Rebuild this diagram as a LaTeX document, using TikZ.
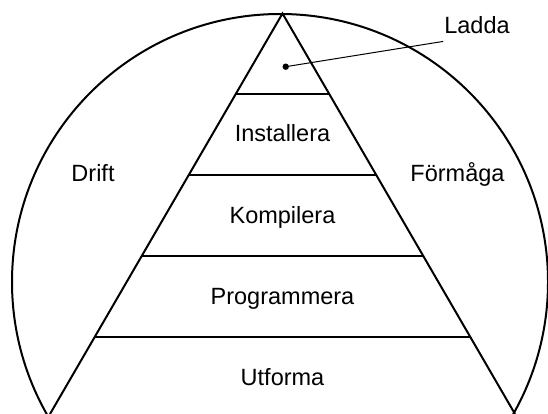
\documentclass[tikz,border=0pt]{standalone}
\usepackage{fontspec}
\setmainfont{Liberation Sans}
\begin{document}
\begin{tikzpicture}[x=1pt,y=-1pt,
  outline/.style={line width=2pt, line join=miter},
  level/.style={line width=2pt},
  lbl/.style={anchor=base, inner sep=0pt, font=\fontsize{23.5}{28}\selectfont},
  leader/.style={line width=1pt}]
  \useasboundingbox (0,0) rectangle (548,414);
  \clip (0,0) rectangle (548,414);
  % outer circle
  \coordinate (centre) at (280,282);
  \draw[outline] (centre) circle (268pt);
  % pyramid
  \coordinate (apex) at (282.5,13.5);
  \coordinate (bl) at (50,414);
  \coordinate (br) at (515,414);
  \draw[outline] (bl) -- (apex) -- (br);
  % level separators, half width grows linearly from the apex
  \foreach \h/\n in {94/a,175/b,256/c,337/d}{
    \pgfmathsetmacro{\w}{0.5805*(\h-13.5)}
    \coordinate (\n l) at (282.5-\w,\h);
    \coordinate (\n r) at (282.5+\w,\h);
    \draw[level] (\n l) -- (\n r);
  }
  % level labels
  \node[lbl] (installera) at (282.5,142) {Installera};
  \node[lbl] (kompilera) at (282.5,223) {Kompilera};
  \node[lbl] (programmera) at (282.5,304) {Programmera};
  \node[lbl] (utforma) at (282.5,385) {Utforma};
  % side labels
  \node[lbl] (drift) at (93,182) {Drift};
  \node[lbl] (formaga) at (457.5,182) {Förmåga};
  % top callout
  \node[lbl, inner xsep=1pt, inner ysep=7pt] (ladda) at (477,34) {Ladda};
  \fill (285.7,66.7) circle[radius=3.2] coordinate (dot);
  \draw[leader] (dot) -- (ladda.south west);
\end{tikzpicture}
\end{document}
